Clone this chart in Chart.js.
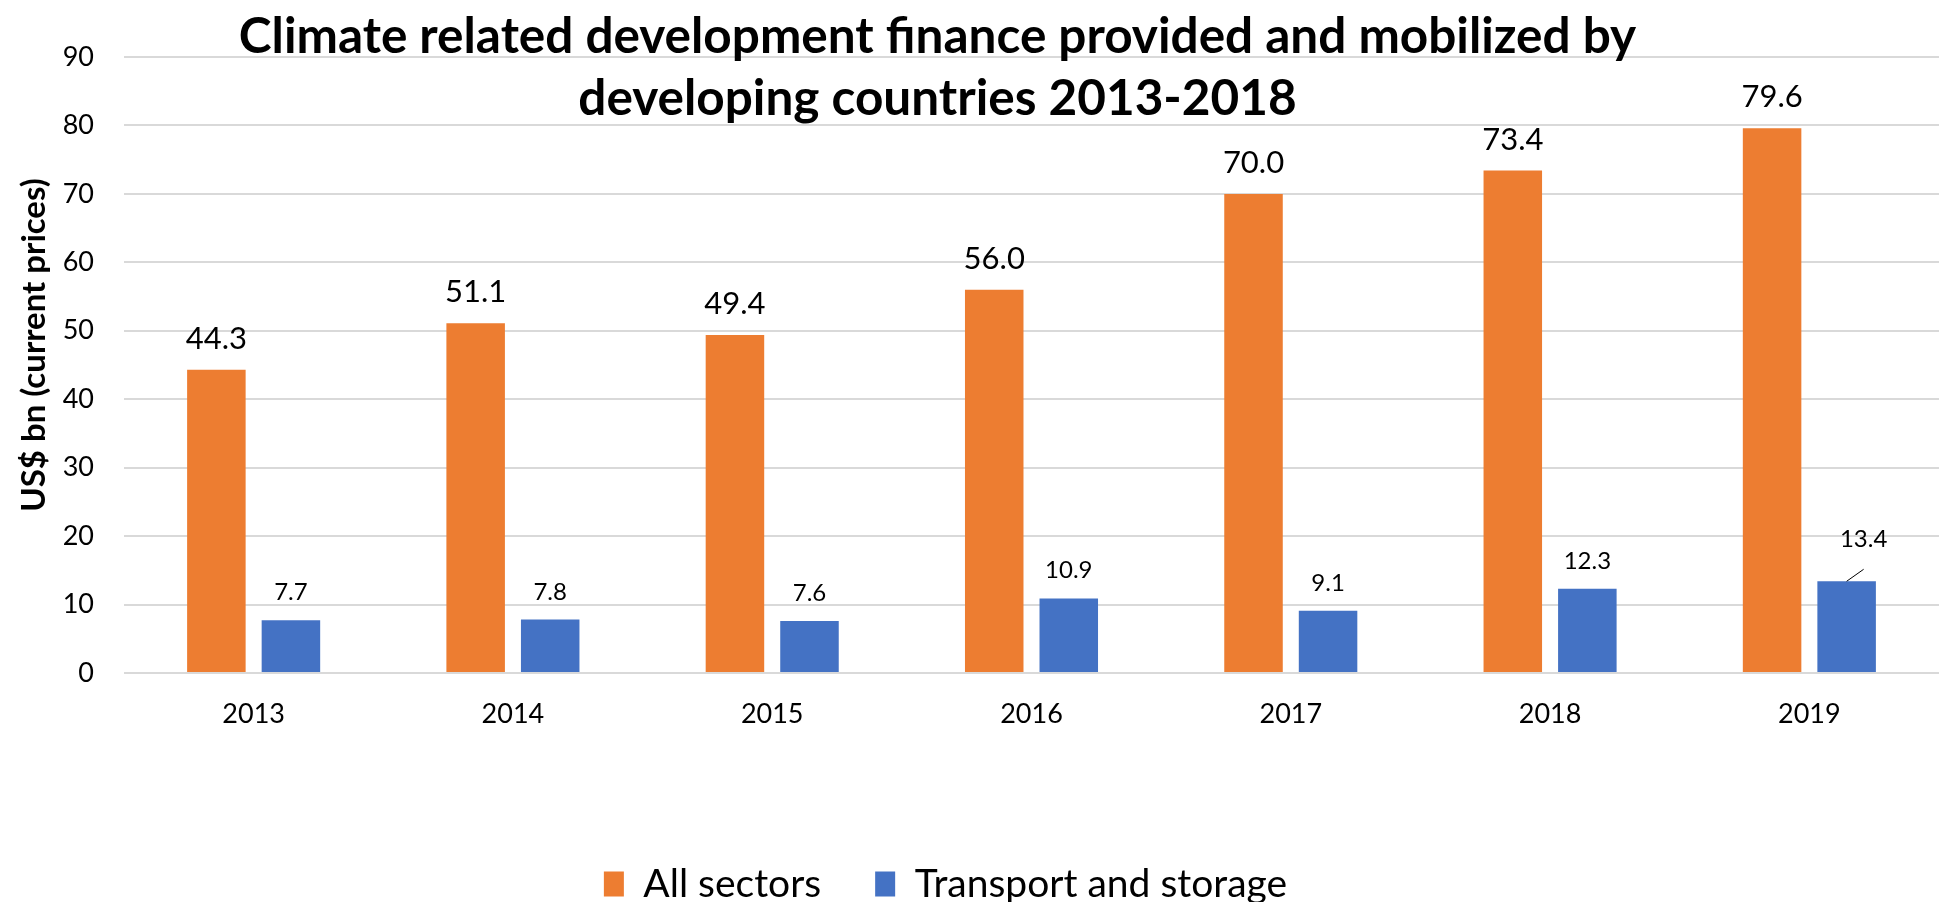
<!DOCTYPE html>
<html>
<head>
<meta charset="utf-8">
<title>Climate related development finance</title>
<script src="https://cdn.jsdelivr.net/npm/chart.js@4.4.1/dist/chart.umd.min.js"></script>
<style>
    html, body { margin: 0; padding: 0; background: #ffffff; }
    #contenitore { width: 1939px; height: 902px; position: relative; }
</style>
</head>
<body>
<div id="contenitore">
    <canvas id="myChart"></canvas>
</div>
<script>

// DATI DEL GRAFICO

const anni = ['2013', '2014', '2015', '2016', '2017', '2018', '2019'];

const tuttiSettori = [44.3, 51.1, 49.4, 56.0, 70.0, 73.4, 79.6];       // All sectors
const trasporti = [7.7, 7.8, 7.6, 10.9, 9.1, 12.3, 13.4];               // Transport and storage

const nomiSerie = ['All sectors', 'Transport and storage'];

const titoloGrafico = [
    'Climate related development finance provided and mobilized by',
    'developing countries 2013-2018'
];
const titoloAsseY = 'US$ bn (current prices)';



// colori stile Excel
const arancione = '#ED7D31';
const blu = '#4472C4';
const griglia = '#d9d9d9';

const FONT = 'Lato, "Open Sans", sans-serif';


// Titoli disegnati a mano (in Excel il titolo si sovrappone alla griglia)
const titoloPlugin = {
    id: 'titolo',
    afterLayout(chart) {
        // in Excel la legenda è un po' spostata a sinistra
        chart.legend.left -= 24;
        chart.legend.right -= 24;
    },
    afterDraw(chart) {
        const ctx = chart.ctx;
        ctx.save();
        ctx.font = 'bold 49.5px ' + FONT;
        ctx.fillStyle = '#000';
        ctx.textAlign = 'center';
        ctx.textBaseline = 'alphabetic';
        const cx = chart.width / 2 - 32;
        ctx.fillText(titoloGrafico[0], cx, 53);
        ctx.fillText(titoloGrafico[1], cx, 115);

        // titolo asse Y, ruotato
        ctx.translate(34, 345);
        ctx.rotate(-Math.PI / 2);
        ctx.font = 'bold 33px ' + FONT;
        ctx.textBaseline = 'middle';
        ctx.fillText(titoloAsseY, 0, 0);
        ctx.restore();
    }
};

// Etichette dei valori sopra le barre
const etichettePlugin = {
    id: 'etichette',
    afterDatasetsDraw(chart) {
        const ctx = chart.ctx;
        ctx.save();
        ctx.fillStyle = '#000';
        ctx.textAlign = 'center';
        ctx.textBaseline = 'alphabetic';
        chart.data.datasets.forEach((ds, di) => {
            const meta = chart.getDatasetMeta(di);
            ctx.font = (di === 0 ? '31px ' : '24px ') + FONT;
            meta.data.forEach((bar, i) => {
                const testo = ds.data[i].toFixed(1);
                let x = bar.x;
                let y = bar.y - (di === 0 ? 21 : 20);
                // l'ultima etichetta blu è spostata in Excel, con linea guida
                if (di === 1 && i === meta.data.length - 1) {
                    x += 17;
                    y -= 14;
                    ctx.strokeStyle = '#000';
                    ctx.lineWidth = 1;
                    ctx.beginPath();
                    ctx.moveTo(bar.x, bar.y);
                    ctx.lineTo(bar.x + 17, bar.y - 12);
                    ctx.stroke();
                }
                ctx.fillText(testo, x, y);
            });
        });
        ctx.restore();
    }
};


let chart;

document.addEventListener("DOMContentLoaded", function() {
    const ctx = document.getElementById('myChart').getContext('2d');
    chart = new Chart(ctx, {
        type: 'bar',
        data: {
            labels: anni,
            datasets: [{
                label: nomiSerie[0],
                data: tuttiSettori,
                backgroundColor: arancione,
                borderWidth: 0,
                categoryPercentage: 0.575,
                barPercentage: 0.785
            }, {
                label: nomiSerie[1],
                data: trasporti,
                backgroundColor: blu,
                borderWidth: 0,
                categoryPercentage: 0.575,
                barPercentage: 0.785
            }]
        },
        options: {
            responsive: true,
            maintainAspectRatio: false,
            animation: false,
            layout: {
                padding: { top: 57, right: 0, left: 0, bottom: -11.5 }
            },
            plugins: {
                title: { display: false },
                tooltip: { enabled: false },
                legend: {
                    position: 'bottom',
                    labels: {
                        font: { family: FONT, size: 39 },
                        color: '#000',
                        boxWidth: 20,
                        boxHeight: 25,
                        padding: 54
                    }
                }
            },
            scales: {
                x: {
                    grid: { display: false, drawTicks: false },
                    border: { display: false },
                    ticks: {
                        font: { family: FONT, size: 27 },
                        color: '#000',
                        padding: 25
                    },
                    afterFit(scale) {
                        scale.height = 137.5;
                    }
                },
                y: {
                    min: 0,
                    max: 90,
                    ticks: {
                        stepSize: 10,
                        font: { family: FONT, size: 27 },
                        color: '#000',
                        padding: 30
                    },
                    grid: {
                        color: griglia,
                        lineWidth: 2,
                        drawTicks: false
                    },
                    border: { display: false },
                    afterFit(scale) {
                        scale.width = 124;
                    }
                }
            }
        },
        plugins: [titoloPlugin, etichettePlugin]
    });
});
</script>
</body>
</html>
